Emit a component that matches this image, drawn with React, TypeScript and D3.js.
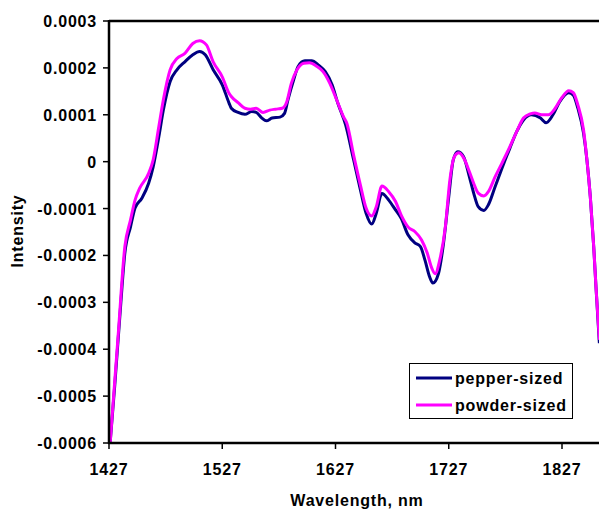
import React from "react";
import * as d3 from "d3";

const xTicks = [1427, 1527, 1627, 1727, 1827];
const yTicks = [0.0003, 0.0002, 0.0001, 0, -0.0001, -0.0002, -0.0003, -0.0004, -0.0005, -0.0006];
const yTickLabels = ["0.0003", "0.0002", "0.0001", "0", "-0.0001", "-0.0002", "-0.0003", "-0.0004", "-0.0005", "-0.0006"];

const pepperWl = [1428, 1432, 1437, 1441, 1446, 1450, 1456, 1462, 1466, 1471, 1475, 1481, 1487, 1494, 1501, 1507, 1512, 1519, 1527, 1533, 1535, 1541, 1547, 1553, 1557, 1562, 1566, 1571, 1578, 1582, 1585, 1590, 1594, 1600, 1606, 1612, 1618, 1624, 1629, 1636, 1643, 1649, 1654, 1659, 1663, 1668, 1674, 1680, 1685, 1691, 1697, 1702, 1706, 1710, 1713, 1718, 1722, 1727, 1731, 1735, 1740, 1745, 1749, 1753, 1758, 1762, 1768, 1774, 1781, 1787, 1793, 1800, 1808, 1813, 1819, 1825, 1833, 1837, 1841, 1846, 1849, 1852, 1855, 1857, 1860];
const pepperVal = [-6.0, -4.8, -3.16, -1.95, -1.39, -0.99, -0.78, -0.46, -0.11, 0.53, 1.10, 1.71, 1.96, 2.13, 2.28, 2.35, 2.28, 1.96, 1.64, 1.25, 1.14, 1.05, 1.01, 1.07, 1.05, 0.93, 0.87, 0.93, 0.95, 1.03, 1.32, 1.74, 2.03, 2.15, 2.15, 2.06, 1.92, 1.64, 1.25, 0.78, 0.04, -0.60, -1.10, -1.33, -1.10, -0.68, -0.82, -1.03, -1.21, -1.56, -1.73, -1.81, -2.10, -2.45, -2.59, -2.38, -1.81, -0.75, 0.04, 0.21, 0.11, -0.30, -0.67, -0.96, -1.04, -0.92, -0.53, -0.14, 0.29, 0.64, 0.89, 1.00, 0.93, 0.83, 1.00, 1.28, 1.47, 1.42, 1.14, 0.61, 0.04, -0.75, -1.81, -2.67, -3.87];

const powderWl = [1428, 1435, 1441, 1446, 1450, 1454, 1462, 1466, 1471, 1475, 1481, 1487, 1494, 1501, 1507, 1513, 1519, 1527, 1533, 1535, 1541, 1547, 1552, 1557, 1563, 1569, 1574, 1580, 1584, 1588, 1593, 1599, 1604, 1610, 1616, 1622, 1628, 1634, 1637, 1643, 1649, 1654, 1659, 1663, 1668, 1674, 1680, 1685, 1691, 1697, 1703, 1708, 1712, 1715, 1719, 1724, 1728, 1732, 1736, 1741, 1745, 1749, 1753, 1758, 1762, 1768, 1774, 1781, 1787, 1793, 1799, 1803, 1809, 1815, 1821, 1827, 1833, 1837, 1841, 1846, 1849, 1852, 1855, 1857, 1860];
const powderVal = [-6.0, -3.73, -1.81, -1.24, -0.82, -0.57, -0.25, 0.04, 0.75, 1.32, 1.96, 2.20, 2.31, 2.52, 2.58, 2.49, 2.13, 1.81, 1.46, 1.39, 1.26, 1.14, 1.12, 1.14, 1.05, 1.10, 1.12, 1.14, 1.28, 1.67, 1.96, 2.10, 2.11, 2.04, 1.92, 1.67, 1.32, 0.96, 0.82, 0.14, -0.50, -0.99, -1.16, -0.96, -0.52, -0.64, -0.85, -1.14, -1.39, -1.49, -1.67, -1.95, -2.27, -2.39, -2.10, -1.39, -0.39, 0.11, 0.19, 0.04, -0.20, -0.46, -0.67, -0.73, -0.64, -0.32, -0.03, 0.32, 0.64, 0.93, 1.02, 1.04, 1.00, 1.00, 1.14, 1.37, 1.51, 1.47, 1.21, 0.68, 0.04, -0.75, -1.81, -2.67, -3.80];

const seriesNames = ["pepper-sized", "powder-sized"];
const seriesColors = ["#000080", "#FF00FF"];

const FONT = "'Liberation Sans', Arial, sans-serif";

export default function App() {
  const x = d3.scaleLinear().domain([1427, 1827]).range([109, 562]);
  const y = d3.scaleLinear().domain([-0.0006, 0.0003]).range([443, 21]);
  const line = d3
    .line<[number, number]>()
    .x((d) => x(d[0]))
    .y((d) => y(d[1] * 1e-4))
    .curve(d3.curveMonotoneX);
  const pepper = pepperWl.map((w, i) => [w, pepperVal[i]] as [number, number]);
  const powder = powderWl.map((w, i) => [w, powderVal[i]] as [number, number]);
  const txt = { fontFamily: FONT, fontWeight: 700, fontSize: 16, letterSpacing: 0.8, fill: "#000" } as const;

  return (
    <svg width={599} height={510} style={{ position: "absolute", left: 0, top: 0, background: "#fff" }}>
      <rect x={0} y={0} width={599} height={510} fill="#fff" />
      <defs>
        <clipPath id="plotclip">
          <rect x={109} y={0} width={490} height={445} />
        </clipPath>
      </defs>
      <g clipPath="url(#plotclip)">
        <path d={line(pepper) || ""} fill="none" stroke={seriesColors[0]} strokeWidth={3} strokeLinejoin="round" />
        <path d={line(powder) || ""} fill="none" stroke={seriesColors[1]} strokeWidth={3} strokeLinejoin="round" />
      </g>
      {/* frame */}
      <line x1={109} x2={599} y1={21} y2={21} stroke="#000" strokeWidth={2.5} />
      <line x1={109} x2={109} y1={20} y2={444} stroke="#000" strokeWidth={2.5} />
      <line x1={108} x2={599} y1={443} y2={443} stroke="#000" strokeWidth={2.5} />
      {yTicks.map((t, i) => (
        <g key={"y" + i}>
          <line x1={103} x2={109} y1={y(t)} y2={y(t)} stroke="#000" strokeWidth={1.5} />
          <text x={97} y={y(t) + 6} textAnchor="end" {...txt}>
            {yTickLabels[i]}
          </text>
        </g>
      ))}
      {xTicks.map((t) => (
        <g key={"x" + t}>
          <line x1={x(t)} x2={x(t)} y1={443} y2={449} stroke="#000" strokeWidth={1.5} />
          <text x={x(t)} y={475} textAnchor="middle" {...txt}>
            {t}
          </text>
        </g>
      ))}
      <text x={357} y={506} textAnchor="middle" {...txt}>
        Wavelength, nm
      </text>
      <text transform="translate(23,231) rotate(-90)" textAnchor="middle" {...txt}>
        Intensity
      </text>
      {/* legend */}
      <rect x={409.5} y={363.5} width={163} height={55} fill="#fff" stroke="#000" strokeWidth={1} />
      {seriesNames.map((n, i) => (
        <g key={n}>
          <line x1={416} x2={452} y1={378 + i * 27} y2={378 + i * 27} stroke={seriesColors[i]} strokeWidth={3} />
          <text x={455} y={384 + i * 27} {...txt}>
            {n}
          </text>
        </g>
      ))}
    </svg>
  );
}
